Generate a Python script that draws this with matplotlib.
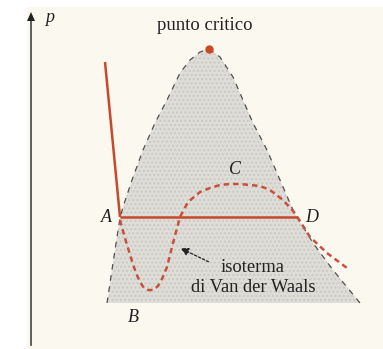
import matplotlib.pyplot as plt
from matplotlib.patches import Polygon

# curva di saturazione (campana), in coordinate del disegno
dome_left_x = [107, 110, 115, 120, 123, 132, 143, 155, 167, 180, 190, 200, 209]
dome_left_y = [303, 283, 250, 218, 207, 180, 150, 123, 100, 73, 60, 52, 49]
dome_right_x = [209, 220, 233, 243, 253, 267, 280, 293, 297, 313, 333, 360]
dome_right_y = [49, 57, 77, 100, 123, 150, 180, 210, 217, 243, 270, 303]
base_y = 303

# isoterma di Van der Waals
vdw_x = [120, 123, 127, 132, 136, 140, 144, 148, 153, 158, 162, 167, 173, 180,
         188, 200, 210, 220, 230, 240, 250, 260, 270, 283, 293, 298, 310, 327, 347]
vdw_y = [220, 231, 245, 261, 273, 282, 288, 290, 290, 286, 279, 267, 243, 217,
         202, 192, 188, 185, 184, 184, 185, 186, 190, 200, 211, 218, 237, 253, 268]

# isoterma reale: ramo liquido + tratto orizzontale A-D
liq_x = [105, 120]
liq_y = [62, 217]
flat_x = [120, 297]
flat_y = [217, 217]

critical = (209, 49)

labels = [
    ("A", 106, 218), ("B", 133, 317), ("C", 235, 170), ("D", 312, 218),
]

fig = plt.figure(figsize=(3.83, 3.49), dpi=100)
fig.patch.set_facecolor("white")
ax = fig.add_axes([0, 0, 1, 1])
ax.set_xlim(0, 383)
ax.set_ylim(349, 0)
ax.axis("off")

# fondo carta
ax.add_patch(plt.Rectangle((27, 7), 383, 349, facecolor="#fbf8ef", edgecolor="none", zorder=0))

# area sotto la campana
poly = list(zip(dome_left_x, dome_left_y)) + list(zip(dome_right_x, dome_right_y)) + [(dome_left_x[0], base_y)]
ax.add_patch(Polygon(poly, closed=True, facecolor="#dfddd7", edgecolor="none", zorder=1))
ax.add_patch(Polygon(poly, closed=True, facecolor="none", edgecolor="#cbc9c3",
                     hatch="....", linewidth=0, zorder=1))

ax.plot(dome_left_x, dome_left_y, color="#505050", lw=0.9, ls=(0, (4.5, 4.5)), zorder=2)
ax.plot(dome_right_x, dome_right_y, color="#505050", lw=0.9, ls=(0, (4.5, 4.5)), zorder=2)

ax.plot(vdw_x, vdw_y, color="#c8503c", lw=1.8, ls=(0, (2.2, 1.6)), zorder=3)
ax.plot(liq_x, liq_y, color="#c8482a", lw=1.8, solid_capstyle="butt", zorder=4)
ax.plot(flat_x, flat_y, color="#c8482a", lw=1.8, solid_capstyle="butt", zorder=4)

ax.plot(*critical, "o", color="#cc4a22", ms=6, mec="none", zorder=5)

# asse delle pressioni
ax.plot([31, 31], [18, 345], color="#444444", lw=1.2, zorder=2)
ax.add_patch(Polygon([(27, 21), (35, 21), (31, 12)], closed=True, facecolor="#222222",
                     edgecolor="none", zorder=3))

serif = ["Liberation Serif", "DejaVu Serif"]
ink = "#222222"
ax.text(45, 18, "p", fontsize=13, style="italic", family=serif, ha="left", va="center", color=ink)
ax.text(205, 26, "punto critico", fontsize=13.5, family=serif, ha="center", va="center", color=ink)
for s, x, y in labels:
    ax.text(x, y, s, fontsize=13, style="italic", family=serif, ha="center", va="center", color=ink)
ax.text(253, 267, "isoterma", fontsize=13.3, family=serif, ha="center", va="center", color=ink)
ax.text(253, 288, "di Van der Waals", fontsize=13.3, family=serif, ha="center", va="center", color=ink)

ax.annotate("", xy=(178, 247), xytext=(211, 263),
            arrowprops=dict(arrowstyle="-|>", color="#222222", lw=0.9,
                            linestyle=(0, (2, 1.5)), mutation_scale=12))

fig.savefig("out.png", dpi=100, facecolor=fig.get_facecolor())
